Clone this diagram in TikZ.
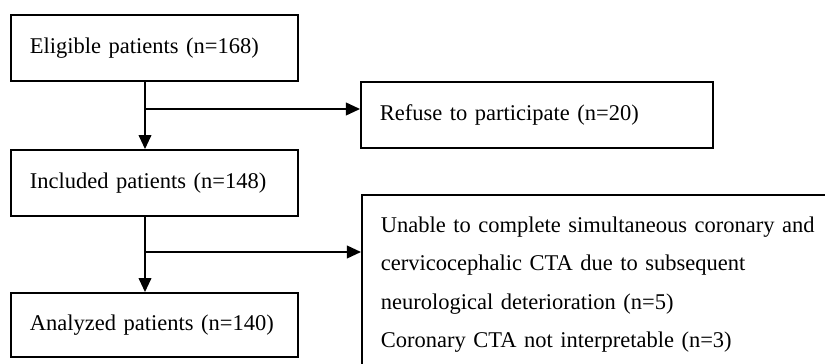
\documentclass[tikz,border=0pt]{standalone}
\usepackage{fontspec}
\setmainfont{Liberation Serif}
\usetikzlibrary{arrows.meta}
\tikzset{
  box/.style={draw,line width=1.3pt,align=left,inner xsep=0.475cm,
    font=\fontsize{16}{27.4}\selectfont},
  flow/.style={line width=1.3pt,-{Triangle[length=10pt,width=9pt]}}
}
\begin{document}
\begin{tikzpicture}[x=0.025cm,y=0.025cm]
\useasboundingbox (0,0) rectangle (825,363);
\clip (0,0) rectangle (825,363);

% main column
\node[box,text width=6.225cm,minimum height=1.65cm] (elig) at (154.5,315) {Eligible patients (n=168)};
\node[box,text width=6.225cm,minimum height=1.65cm] (incl) at (154.5,180) {Included patients (n=148)};
\node[box,text width=6.225cm,minimum height=1.6cm] (anal) at (154.5,38) {Analyzed patients (n=140)};

% exclusions
\node[box,text width=7.85cm,minimum height=1.65cm] (refuse) at (537,248) {Refuse to participate (n=20)};
\node[box,text width=11.275cm,minimum height=4.475cm,anchor=north west] (excl) at (361,169)
  {Unable to complete simultaneous coronary and\\
   cervicocephalic CTA due to subsequent\\
   neurological deterioration (n=5)\\
   Coronary CTA not interpretable (n=3)};

% arrows
\coordinate (b1) at (145,254);
\coordinate (b2) at (145,111);
\draw[flow] (elig.south -| b1) -- (incl.north -| b1);
\draw[flow] (incl.south -| b2) -- (anal.north -| b2);
\draw[flow] (b1) -- (b1 -| refuse.west);
\draw[flow] (b2) -- (b2 -| excl.west);
\end{tikzpicture}
\end{document}
